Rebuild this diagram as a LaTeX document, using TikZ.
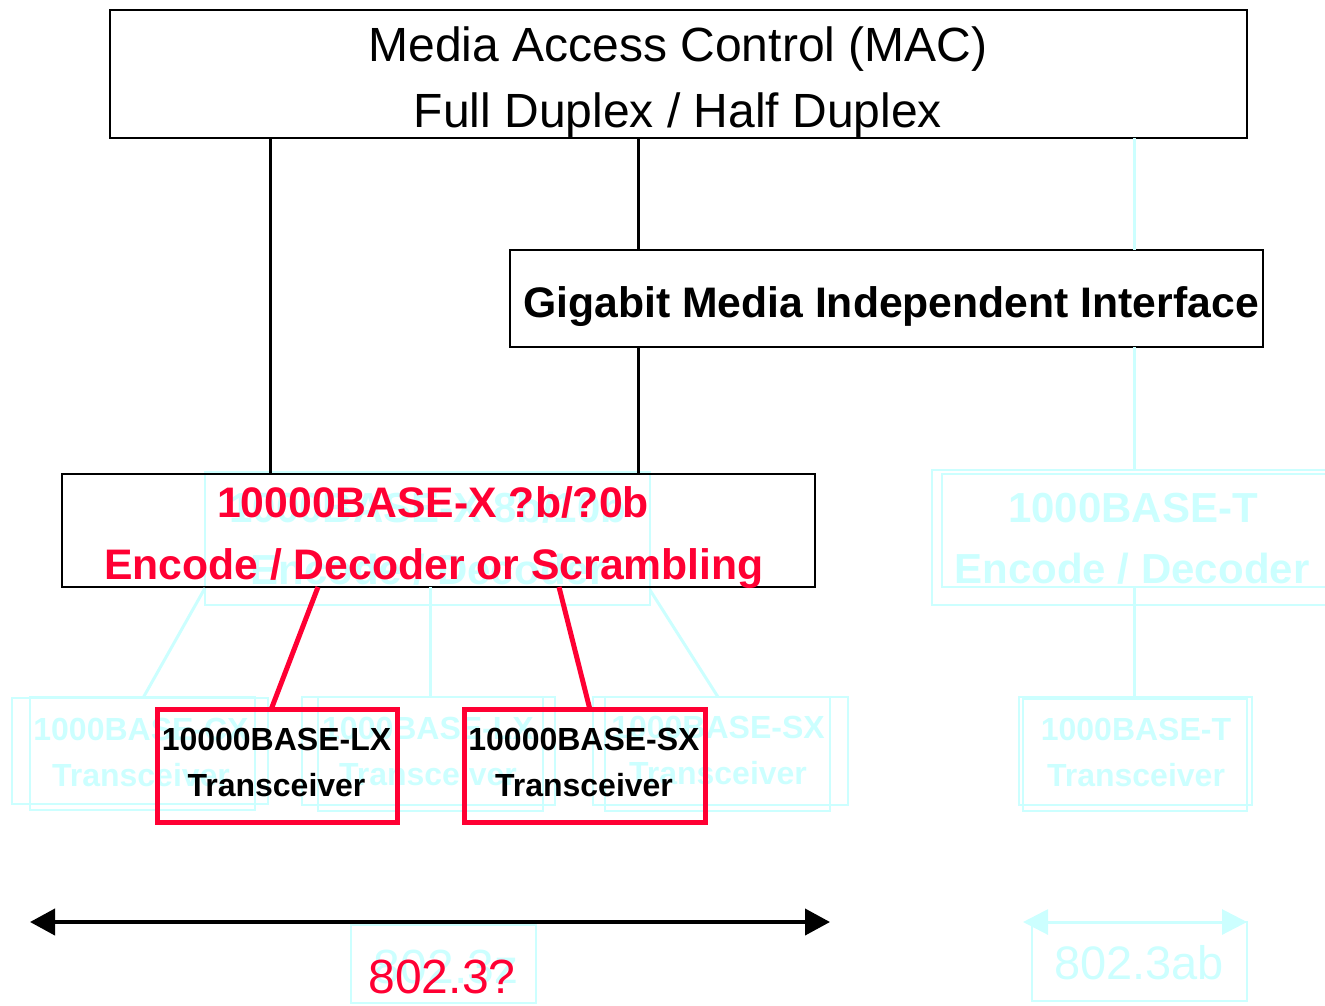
\documentclass[tikz,border=0pt]{standalone}
\usepackage{fontspec}
\setmainfont{Liberation Sans}
\usetikzlibrary{arrows.meta,calc}
\definecolor{redc}{RGB}{255,0,51}
\definecolor{cyanc}{RGB}{204,255,255}
\newcommand\myfs[1]{\fontsize{#1}{#1}\selectfont}
\begin{document}
\begin{tikzpicture}[x=1pt,y=-1pt,
  box/.style={draw=black,line width=2pt,rectangle,inner sep=0pt,outer sep=0pt},
  redbox/.style={draw=redc,line width=5pt,rectangle,inner sep=0pt,outer sep=0pt},
  cybox/.style={draw=cyanc,line width=2.5pt,rectangle,inner sep=0pt,outer sep=0pt},
  lbl/.style={anchor=base,inner sep=0pt,outer sep=0pt},
  cylbl/.style={lbl,text=cyanc},
  blk/.style={draw=black,line width=3pt},
  redln/.style={draw=redc,line width=5pt},
  cyln/.style={draw=cyanc,line width=3pt}]
\useasboundingbox (0,0) rectangle (1325,1005);

% ---------- faint cyan layer ----------
\node[cybox,minimum width=445pt,minimum height=133pt] (xenc) at (427.5,538.5) {};
\node[cylbl,font=\myfs{42}\bfseries] (xenct1) at (428,522) {1000BASE-X 8b/10b};
\node[cylbl,font=\myfs{42}\bfseries] (xenct2) at (428,584) {Encode / Decoder};

\node[cybox,minimum width=398pt,minimum height=135pt] (tenca) at (1131,537.5) {};
\node[cybox,minimum width=388pt,minimum height=113pt] (tencb) at (1136,530.5) {};
\node[cylbl,font=\myfs{42}\bfseries] (tenct1) at (1133,522) {1000BASE-T};
\node[cylbl,font=\myfs{42}\bfseries] (tenct2) at (1132,583) {Encode / Decoder};

\node[cybox,minimum width=256pt,minimum height=106pt] (cxa) at (140,751) {};
\node[cybox,minimum width=225pt,minimum height=113pt] (cxb) at (142.5,753.5) {};
\node[cylbl,font=\myfs{32}\bfseries] (cxt1) at (141,740) {1000BASE-CX};
\node[cylbl,font=\myfs{32}\bfseries] (cxt2) at (141,786) {Transceiver};

\node[cybox,minimum width=253pt,minimum height=108pt] (lxa) at (428.5,751) {};
\node[cybox,minimum width=225pt,minimum height=114pt] (lxb) at (430.5,754) {};
\node[cylbl,font=\myfs{32}\bfseries] (lxt1) at (428,739) {1000BASE-LX};
\node[cylbl,font=\myfs{32}\bfseries] (lxt2) at (428,785) {Transceiver};

\node[cybox,minimum width=255pt,minimum height=108pt] (sxa) at (720.5,751) {};
\node[cybox,minimum width=225pt,minimum height=114pt] (sxb) at (717.5,754) {};
\node[cylbl,font=\myfs{32}\bfseries] (sxt1) at (718,738) {1000BASE-SX};
\node[cylbl,font=\myfs{32}\bfseries] (sxt2) at (718,784) {Transceiver};

\node[cybox,minimum width=233pt,minimum height=108pt] (txa) at (1135.5,751) {};
\node[cybox,minimum width=224pt,minimum height=112pt] (txb) at (1135,755) {};
\node[cylbl,font=\myfs{32}\bfseries] (txt1) at (1136,740) {1000BASE-T};
\node[cylbl,font=\myfs{32}\bfseries] (txt2) at (1136,786) {Transceiver};

\node[cybox,minimum width=185pt,minimum height=78pt] (stdz) at (443.5,964) {};
\node[cylbl,font=\myfs{48}] (stdzt) at (446,983) {802.3z};
\node[cybox,minimum width=215pt,minimum height=79pt] (stdab) at (1139.5,961.5) {};
\node[cylbl,font=\myfs{47}] (stdabt) at (1139,979) {802.3ab};

\coordinate (tx) at (1134,0);
\coordinate (xl) at (205,588);
\coordinate (xm) at (430,0);
\coordinate (xr) at (650,590);
\coordinate (cxtop) at (143,0);
\coordinate (sxtop) at (718,0);
\coordinate (abl) at (1023,922);
\coordinate (abr) at (1247,922);

% ---------- black layer ----------
\node[box,minimum width=1137pt,minimum height=128pt] (mac) at (678.5,74) {};
\node[lbl,font=\myfs{48}] (mact1) at (678,61) {Media Access Control (MAC)};
\node[lbl,font=\myfs{48}] (mact2) at (678,127) {Full Duplex / Half Duplex};

\node[box,minimum width=753pt,minimum height=97pt] (gmii) at (886.5,298.5) {};
\node[lbl,font=\myfs{42.7}\bfseries] (gmiit) at (891,317) {Gigabit Media Independent Interface};

\node[box,minimum width=753pt,minimum height=113pt] (enc) at (438.5,530.5) {};

% cyan connectors
\draw[cyln] (mac.south -| tx) -- (gmii.north -| tx);
\draw[cyln] (gmii.south -| tx) -- (tenca.north -| tx);
\draw[cyln] (tencb.south -| tx) -- (txa.north -| tx);
\draw[cyln] (xl) -- (cxa.north -| cxtop);
\draw[cyln] (enc.south -| xm) -- (lxa.north -| xm);
\draw[cyln] (xr) -- (sxa.north -| sxtop);
\draw[cyln,{Triangle[length=25pt,width=25pt]}-{Triangle[length=25pt,width=25pt]}] (abl) -- (abr);

% black connectors
\coordinate (bl) at (270,0);
\coordinate (bm) at (638,0);
\draw[blk] (mac.south -| bl) -- (enc.north -| bl);
\draw[blk] (mac.south -| bm) -- (gmii.north -| bm);
\draw[blk] (gmii.south -| bm) -- (enc.north -| bm);

% red encoder text
\node[lbl,font=\myfs{42.7}\bfseries,text=redc] (enct1) at (433,517) {10000BASE-X ?b/?0b};
\node[lbl,font=\myfs{42.7}\bfseries,text=redc] (enct2) at (434,579) {Encode / Decoder or Scrambling};

% red transceivers
\node[redbox,minimum width=240pt,minimum height=112.5pt] (lx) at (277.5,766) {};
\node[lbl,font=\myfs{32}\bfseries] (lxl1) at (276.5,750) {10000BASE-LX};
\node[lbl,font=\myfs{32}\bfseries] (lxl2) at (276.5,796) {Transceiver};
\node[redbox,minimum width=240.5pt,minimum height=112.5pt] (sx) at (585,766) {};
\node[lbl,font=\myfs{32}\bfseries] (sxl1) at (584,750) {10000BASE-SX};
\node[lbl,font=\myfs{32}\bfseries] (sxl2) at (584,796) {Transceiver};

\coordinate (r1a) at (318,0);
\coordinate (r1b) at (271,0);
\coordinate (r2a) at (559,0);
\coordinate (r2b) at (590,0);
\draw[redln] (enc.south -| r1a) -- (lx.north -| r1b);
\draw[redln] (enc.south -| r2a) -- (sx.north -| r2b);

% bottom arrow and standard
\coordinate (al) at (30,922);
\coordinate (ar) at (830,922);
\draw[black,line width=4pt,{Triangle[length=25pt,width=26pt]}-{Triangle[length=25pt,width=26pt]}] (al) -- (ar);
\node[lbl,font=\myfs{48},text=redc] (stdt) at (442,993) {802.3?};
\end{tikzpicture}
\end{document}
